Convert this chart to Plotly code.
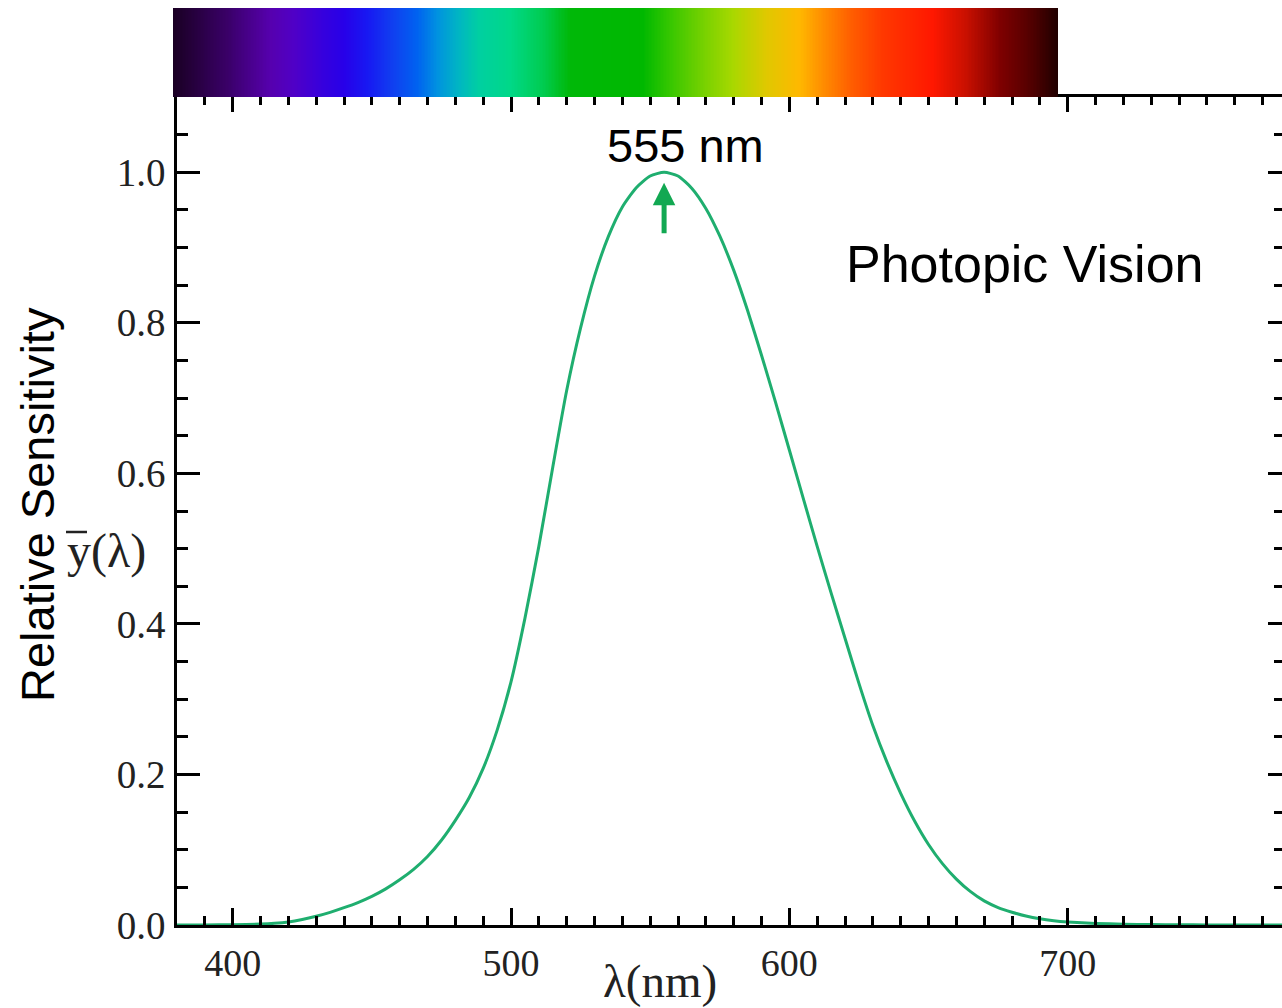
import numpy as np
import plotly.graph_objects as go

# CIE photopic luminosity function V(lambda)
wavelength = [380, 390, 400, 410, 415, 420, 425, 430, 435, 440, 445, 450, 455, 460, 465,
              470, 475, 480, 485, 490, 495, 500, 505, 510, 515, 520, 525, 530, 535, 540,
              545, 550, 555, 560, 565, 570, 575, 580, 585, 590, 595, 600, 605, 610, 615,
              620, 625, 630, 635, 640, 645, 650, 655, 660, 665, 670, 675, 680, 685, 690,
              695, 700, 710, 720, 730, 740, 750, 760, 770, 780]
sensitivity = [0.00004, 0.00012, 0.0004, 0.0012, 0.00218, 0.0040, 0.0073, 0.0116, 0.0168,
               0.023, 0.0298, 0.038, 0.048, 0.060, 0.0739, 0.091, 0.1126, 0.139, 0.1693,
               0.208, 0.2586, 0.323, 0.4073, 0.503, 0.6082, 0.710, 0.7932, 0.862, 0.9149,
               0.954, 0.9795, 0.995, 1.0, 0.995, 0.9786, 0.952, 0.9154, 0.870, 0.8163,
               0.757, 0.6949, 0.631, 0.5668, 0.503, 0.4412, 0.381, 0.321, 0.265, 0.217,
               0.175, 0.1382, 0.107, 0.0816, 0.061, 0.0446, 0.032, 0.0232, 0.017, 0.0119,
               0.0082, 0.00572, 0.0041, 0.0021, 0.00105, 0.00052, 0.00025, 0.00012,
               0.00006, 0.00003, 0.000015]

# spectrum bar colour stops: position along bar (0..885 px) and colour
spectrum_px = [0, 54, 97, 120, 147, 170, 194, 220, 244, 264, 287, 307, 337, 370, 397,
               470, 494, 527, 560, 594, 627, 644, 677, 710, 760, 794, 827, 860, 885]
spectrum_col = ["#1a0024", "#3a0068", "#5600ae", "#5000c6", "#3800dc", "#2800e8", "#1818f2",
                "#1040f0", "#0062f0", "#0092e0", "#00b8c0", "#00d0a0", "#00d888", "#00cc50",
                "#00b808", "#00b800", "#30c600", "#70d000", "#a8d800", "#e0c800", "#ffb800",
                "#ff9800", "#ff6000", "#ff3800", "#ff1800", "#c81000", "#800000", "#500000",
                "#200000"]

x_ticks = [400, 500, 600, 700]
y_ticks = [0.0, 0.2, 0.4, 0.6, 0.8, 1.0]

W, H = 1282, 1008
L, R, T, B = 173, 0, 8, 83
PW, PH = W - L - R, H - T - B


def px(xp):
    return (xp - L) / PW


def py(yp):
    return (H - B - yp) / PH


line_green = "#1fae6f"
serif = "Liberation Serif, Times New Roman, serif"
sans = "Liberation Sans, Arial, sans-serif"

fig = go.Figure()

fig.add_trace(go.Scatter(x=wavelength, y=sensitivity, mode="lines",
                         line=dict(color=line_green, width=3, shape="spline", smoothing=0.6),
                         xaxis="x", yaxis="y", showlegend=False, hoverinfo="skip"))

# overlay axes for top / right ticks
fig.add_trace(go.Scatter(x=[], y=[], xaxis="x3", yaxis="y3", showlegend=False))

# spectrum bar
n = 600
zrow = np.linspace(0, 1, n)
span = float(spectrum_px[-1])
cscale = [[p / span, c] for p, c in zip(spectrum_px, spectrum_col)]
fig.add_trace(go.Heatmap(z=[zrow], x=zrow, y=[0], colorscale=cscale, zmin=0, zmax=1,
                         showscale=False, xaxis="x2", yaxis="y2", hoverinfo="skip"))

ydom_top = (H - B - 97) / PH
xdom_left = px(177)

axis_common = dict(showgrid=False, zeroline=False, showline=True, linecolor="black",
                   linewidth=2.5, ticks="inside", tickcolor="black", tickwidth=2.5)

fig.update_layout(
    width=W, height=H,
    margin=dict(l=L, r=R, t=T, b=B),
    paper_bgcolor="white", plot_bgcolor="white",
    showlegend=False,
    xaxis=dict(**axis_common, domain=[xdom_left, 1], range=[380, 777], anchor="y",
               tickvals=x_ticks, ticklen=17,
               minor=dict(dtick=10, tick0=380, ticklen=9, ticks="inside", tickcolor="black",
                          tickwidth=2.5),
               tickfont=dict(family=serif, size=38, color="#222"),
               ticklabelstandoff=3),
    yaxis=dict(**axis_common, domain=[0, ydom_top], range=[0, 1.1], anchor="x",
               tickvals=y_ticks, tickformat=".1f", ticklen=23,
               minor=dict(dtick=0.05, tick0=0, ticklen=11, ticks="inside", tickcolor="black",
                          tickwidth=2.5),
               tickfont=dict(family=serif, size=39, color="#222"),
               ticklabelstandoff=1),
    xaxis3=dict(**axis_common, overlaying="x", side="top", anchor="y3", matches="x",
                range=[380, 777], tickvals=x_ticks, ticklen=15, showticklabels=False,
                minor=dict(dtick=10, tick0=380, ticklen=8, ticks="inside", tickcolor="black",
                           tickwidth=2.5)),
    yaxis3=dict(**axis_common, overlaying="y", side="right", anchor="x3", matches="y",
                range=[0, 1.1], tickvals=y_ticks, ticklen=14, showticklabels=False,
                minor=dict(dtick=0.05, tick0=0, ticklen=8, ticks="inside", tickcolor="black",
                           tickwidth=2.5)),
    xaxis2=dict(domain=[0, px(1058)], range=[-0.5 / (n - 1), 1 + 0.5 / (n - 1)],
                anchor="y2", visible=False, fixedrange=True),
    yaxis2=dict(domain=[ydom_top, 1], range=[-0.5, 0.5], anchor="x2", visible=False,
                fixedrange=True),
)

annotations = [
    dict(x=555, y=0.986, xref="x", yref="y", text="", showarrow=True, ax=0, ay=52,
         axref="pixel", ayref="pixel", arrowhead=2, arrowsize=0.9, arrowwidth=5,
         arrowcolor="#12a852"),
    dict(x=px(685), y=py(146), xref="paper", yref="paper", text="555 nm", showarrow=False,
         font=dict(family=sans, size=47, color="black"), xanchor="center", yanchor="middle"),
    dict(x=px(1025), y=py(264), xref="paper", yref="paper", text="Photopic Vision",
         showarrow=False, font=dict(family=sans, size=52, color="black"),
         xanchor="center", yanchor="middle"),
    dict(x=px(37), y=py(505), xref="paper", yref="paper", text="Relative Sensitivity",
         showarrow=False, textangle=-90, font=dict(family=sans, size=47, color="black"),
         xanchor="center", yanchor="middle"),
    dict(x=px(106), y=py(551), xref="paper", yref="paper", text="y(λ)",
         showarrow=False, font=dict(family=serif, size=48, color="#222"),
         xanchor="center", yanchor="middle"),
    dict(x=px(660), y=py(981), xref="paper", yref="paper", text="λ(nm)",
         showarrow=False, font=dict(family=serif, size=47, color="#222"),
         xanchor="center", yanchor="middle"),
]
fig.update_layout(annotations=annotations)

# overline above y
fig.add_shape(type="line", xref="paper", yref="paper", x0=px(66), x1=px(87),
              y0=py(532), y1=py(532), line=dict(color="#222", width=2.5))

fig.write_html("out.html")
